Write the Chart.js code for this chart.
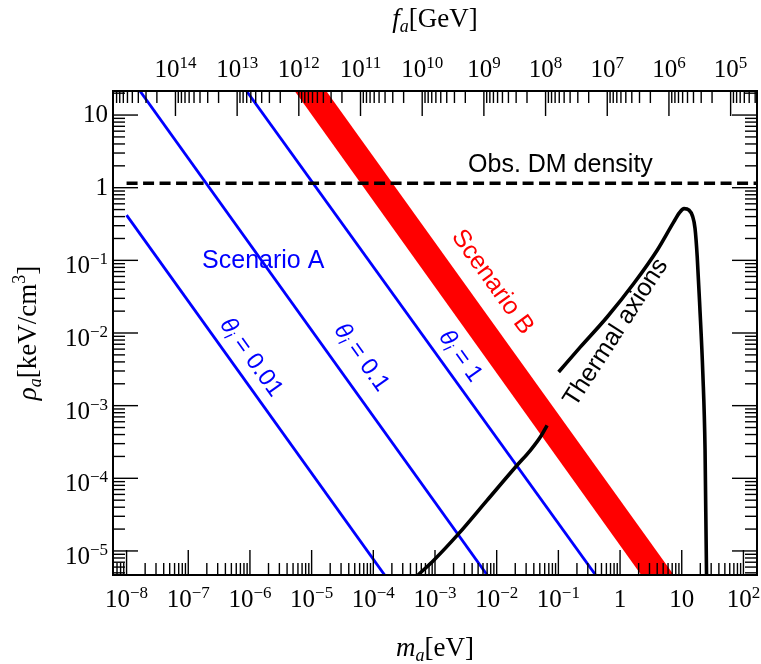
<!DOCTYPE html>
<html>
<head>
<meta charset="utf-8">
<script src="https://cdn.jsdelivr.net/npm/chart.js@4.4.1/dist/chart.umd.min.js"></script>
<style>
  html, body { margin: 0; padding: 0; background: #fff; }
  #wrap { width: 761px; height: 664px; position: relative; }
</style>
</head>
<body>
<div id="wrap"><canvas id="axionChart"></canvas></div>
<script>
// ---- axes ----
let massTicks = [1e-8, 1e-7, 1e-6, 1e-5, 1e-4, 1e-3, 1e-2, 1e-1, 1, 10, 100];
let massTickLabels = ['10^\u22128', '10^\u22127', '10^\u22126', '10^\u22125', '10^\u22124', '10^\u22123',
                      '10^\u22122', '10^\u22121', '1', '10', '10^2'];
let rhoTicks = [1e-5, 1e-4, 1e-3, 1e-2, 1e-1, 1, 10];
let rhoTickLabels = ['10^\u22125', '10^\u22124', '10^\u22123', '10^\u22122', '10^\u22121', '1', '10'];
let faTicks = [1e14, 1e13, 1e12, 1e11, 1e10, 1e9, 1e8, 1e7, 1e6, 1e5];
let faTickLabels = ['10^14', '10^13', '10^12', '10^11', '10^10', '10^9', '10^8', '10^7', '10^6', '10^5'];

// f_a [GeV] * m_a [eV]
let faTimesMass = 6.2e6;

// ---- scenario A : misalignment lines ----
let thetaLabels = ['0.01', '0.1', '1'];
let theta001Mass = [1.0e-8, 1.7e-4];
let theta001Rho = [0.42, 4.1e-6];
let theta01Mass = [1.5e-8, 7.5e-3];
let theta01Rho = [24, 4.3e-6];
let theta1Mass = [8.0e-7, 0.43];
let theta1Rho = [24, 4.3e-6];

// ---- scenario B band (corners) ----
let bandMass = [4.0e-6, 1.3e-5, 10.8, 3.2];
let bandRho = [30, 30, 3e-6, 3e-6];

// ---- observed DM density ----
let dmMass = [1e-8, 200];
let dmRho = [1.15, 1.15];

// ---- thermal axions ----
let thermalLowMass = [3.97e-4, 5.42e-4, 9.48e-4, 2.42e-3, 6.98e-3, 2.14e-2, 3.52e-2, 5.10e-2, 6.56e-2];
let thermalLowRho = [3.68e-6, 4.74e-6, 7.40e-6, 1.73e-5, 4.97e-5, 1.51e-4, 2.43e-4, 3.70e-4, 5.36e-4];
let thermalHighMass = [0.101, 0.228, 0.618, 1.667, 4.0, 7.43, 9.20, 10.89, 13.12, 14.96, 16.41, 17.82,
                       19.63, 21.98, 23.88, 25.23, 25.53];
let thermalHighRho = [2.91e-3, 6.43e-3, 1.66e-2, 4.80e-2, 0.138, 0.339, 0.454, 0.515, 0.491, 0.406, 0.277,
                      0.112, 2.29e-2, 2.76e-3, 2.43e-4, 4.67e-6, 3.35e-6];

const SERIF = '"Liberation Serif", "DejaVu Serif", serif';
const SANS = '"Liberation Sans", Arial, sans-serif';
const BLUE = '#0000ff';
const RED = '#ff0000';

const massMin = Math.pow(10, -8.22), massMax = Math.pow(10, 2.22);
const rhoMin = Math.pow(10, -5.331), rhoMax = Math.pow(10, 1.331);

function toPoints(xs, ys) {
    return xs.map((x, i) => ({ x: x, y: ys[i] }));
}

function lineSet(xs, ys, color, width, extra) {
    return Object.assign({
        data: toPoints(xs, ys),
        showLine: true,
        borderColor: color,
        borderWidth: width,
        pointRadius: 0,
        pointHoverRadius: 0,
        fill: false,
        clip: 0,
        order: 0
    }, extra || {});
}

function minorValues(min, max) {
    let out = [];
    for (let n = Math.floor(Math.log10(min)) - 1; n <= Math.ceil(Math.log10(max)); n++) {
        for (let k = 2; k <= 9; k++) {
            let v = k * Math.pow(10, n);
            if (v > min && v < max) out.push(v);
        }
    }
    return out;
}

function drawPower(ctx, label, x, y, align) {
    const parts = label.split('^');
    ctx.font = '25px ' + SERIF;
    const wb = ctx.measureText(parts[0]).width;
    let we = 0;
    if (parts[1]) {
        ctx.font = '17px ' + SERIF;
        we = ctx.measureText(parts[1]).width;
    }
    const total = wb + we;
    const x0 = align === 'right' ? x - total : x - total / 2;
    ctx.textAlign = 'left';
    ctx.textBaseline = 'alphabetic';
    ctx.fillStyle = '#000';
    ctx.font = '25px ' + SERIF;
    ctx.fillText(parts[0], x0, y);
    if (parts[1]) {
        ctx.font = '17px ' + SERIF;
        ctx.fillText(parts[1], x0 + wb, y - 9);
    }
}

function drawRuns(ctx, runs, cx, cy, angle, baseline) {
    ctx.save();
    ctx.translate(cx, cy);
    ctx.rotate(angle);
    ctx.textAlign = 'left';
    ctx.textBaseline = baseline;
    let total = 0;
    runs.forEach(r => { ctx.font = r.font; r.w = ctx.measureText(r.text).width; total += r.w; });
    let xp = -total / 2;
    runs.forEach(r => {
        ctx.font = r.font;
        ctx.fillStyle = r.color || '#000';
        ctx.fillText(r.text, xp, r.dy || 0);
        xp += r.w;
    });
    ctx.restore();
}

const lineAngle = 54.3 * Math.PI / 180;

function thetaRuns(val) {
    return [
        { text: '\u03b8', font: 'italic 24px ' + SANS, color: BLUE },
        { text: 'i', font: 'italic 16px ' + SANS, color: BLUE, dy: 6 },
        { text: ' = ' + val, font: '24px ' + SANS, color: BLUE }
    ];
}

// text labels placed in data coordinates
const notes = [
    { m: 1.64e-6, r: 0.0975, angle: 0, runs: [{ text: 'Scenario A', font: '25px ' + SANS, color: BLUE }] },
    { m: 0.108, r: 2.05, angle: 0, runs: [{ text: 'Obs. DM density', font: '25px ' + SANS, color: '#000' }] },
    { m: 8.5e-3, r: 0.050, angle: lineAngle, runs: [{ text: 'Scenario B', font: '25px ' + SANS, color: RED }] },
    { m: 1.04e-6, r: 4.6e-3, angle: lineAngle, runs: thetaRuns(thetaLabels[0]) },
    { m: 6.4e-5, r: 4.6e-3, angle: lineAngle, runs: thetaRuns(thetaLabels[1]) },
    { m: 2.57e-3, r: 4.8e-3, angle: lineAngle, runs: thetaRuns(thetaLabels[2]) },
    { m: 0.857, r: 1.01e-2, angle: -57 * Math.PI / 180, runs: [{ text: 'Thermal axions', font: '25px ' + SANS, color: '#000' }] }
];

const framePlugin = {
    id: 'frame',
    afterDraw(chart) {
        const ctx = chart.ctx;
        const a = chart.chartArea;
        const sx = chart.scales.x, sy = chart.scales.y, sf = chart.scales.fa;

        ctx.save();
        notes.forEach(n => {
            drawRuns(ctx, n.runs, sx.getPixelForValue(n.m), sy.getPixelForValue(n.r), n.angle, 'middle');
        });

        // frame
        ctx.strokeStyle = '#000';
        ctx.lineWidth = 2;
        ctx.strokeRect(a.left, a.top, a.right - a.left, a.bottom - a.top);

        // ticks
        ctx.lineWidth = 1.4;
        function tick(x1, y1, x2, y2) {
            ctx.beginPath(); ctx.moveTo(x1, y1); ctx.lineTo(x2, y2); ctx.stroke();
        }
        const major = 25, minor = 12;
        massTicks.forEach(v => { const p = sx.getPixelForValue(v); tick(p, a.bottom, p, a.bottom - major); });
        minorValues(massMin, massMax).forEach(v => { const p = sx.getPixelForValue(v); tick(p, a.bottom, p, a.bottom - minor); });
        const fMin = faTimesMass / massMax, fMax = faTimesMass / massMin;
        faTicks.forEach(v => { const p = sf.getPixelForValue(v); tick(p, a.top, p, a.top + major); });
        minorValues(fMin, fMax).forEach(v => { const p = sf.getPixelForValue(v); tick(p, a.top, p, a.top + minor); });
        rhoTicks.forEach(v => {
            const p = sy.getPixelForValue(v);
            tick(a.left, p, a.left + major, p);
            tick(a.right, p, a.right - major, p);
        });
        minorValues(rhoMin, rhoMax).forEach(v => {
            const p = sy.getPixelForValue(v);
            tick(a.left, p, a.left + minor, p);
            tick(a.right, p, a.right - minor, p);
        });

        // tick labels
        massTicks.forEach((v, i) => drawPower(ctx, massTickLabels[i], sx.getPixelForValue(v), a.bottom + 32, 'center'));
        faTicks.forEach((v, i) => drawPower(ctx, faTickLabels[i], sf.getPixelForValue(v), a.top - 14, 'center'));
        rhoTicks.forEach((v, i) => {
            const lab = rhoTickLabels[i];
            const off = lab.indexOf('^') >= 0 ? 13 : 7;
            drawPower(ctx, lab, a.left - 5, sy.getPixelForValue(v) + off, 'right');
        });

        // axis titles
        const cx = (a.left + a.right) / 2, cy = (a.top + a.bottom) / 2;
        drawRuns(ctx, [
            { text: 'm', font: 'italic 27px ' + SERIF },
            { text: 'a', font: 'italic 18px ' + SERIF, dy: 5 },
            { text: '[eV]', font: '27px ' + SERIF }
        ], cx, a.bottom + 81, 0, 'alphabetic');
        drawRuns(ctx, [
            { text: 'f', font: 'italic 27px ' + SERIF },
            { text: 'a', font: 'italic 18px ' + SERIF, dy: 5 },
            { text: '[GeV]', font: '27px ' + SERIF }
        ], cx, 27, 0, 'alphabetic');
        drawRuns(ctx, [
            { text: '\u03c1', font: 'italic 27px ' + SERIF },
            { text: 'a', font: 'italic 18px ' + SERIF, dy: 5 },
            { text: '[keV/cm', font: '27px ' + SERIF },
            { text: '3', font: '18px ' + SERIF, dy: -11 },
            { text: ']', font: '27px ' + SERIF }
        ], 36, cy, -Math.PI / 2, 'alphabetic');
        ctx.restore();
    }
};

new Chart(document.getElementById('axionChart'), {
    type: 'scatter',
    data: {
        datasets: [
            lineSet(thermalLowMass, thermalLowRho, '#000', 3.6, { cubicInterpolationMode: 'monotone' }),
            lineSet(thermalHighMass, thermalHighRho, '#000', 3.6, { cubicInterpolationMode: 'monotone', borderJoinStyle: 'round' }),
            lineSet(dmMass, dmRho, '#000', 3.4, { borderDash: [11, 5.5] }),
            lineSet(theta001Mass, theta001Rho, BLUE, 2.8),
            lineSet(theta01Mass, theta01Rho, BLUE, 2.8),
            lineSet(theta1Mass, theta1Rho, BLUE, 2.8),
            {
                data: toPoints(bandMass, bandRho),
                showLine: true,
                borderColor: 'rgba(0,0,0,0)',
                borderWidth: 0,
                backgroundColor: RED,
                fill: 'shape',
                pointRadius: 0,
                pointHoverRadius: 0,
                order: 5
            }
        ]
    },
    options: {
        responsive: true,
        maintainAspectRatio: false,
        animation: false,
        events: [],
        layout: { padding: { left: 113, right: 4, top: 91, bottom: 89 } },
        plugins: { legend: { display: false }, tooltip: { enabled: false } },
        scales: {
            x: { type: 'logarithmic', min: massMin, max: massMax, display: false },
            y: { type: 'logarithmic', min: rhoMin, max: rhoMax, display: false },
            fa: { type: 'logarithmic', axis: 'x', position: 'top', reverse: true,
                  min: faTimesMass / massMax, max: faTimesMass / massMin, display: false }
        }
    },
    plugins: [framePlugin]
});
</script>
</body>
</html>
